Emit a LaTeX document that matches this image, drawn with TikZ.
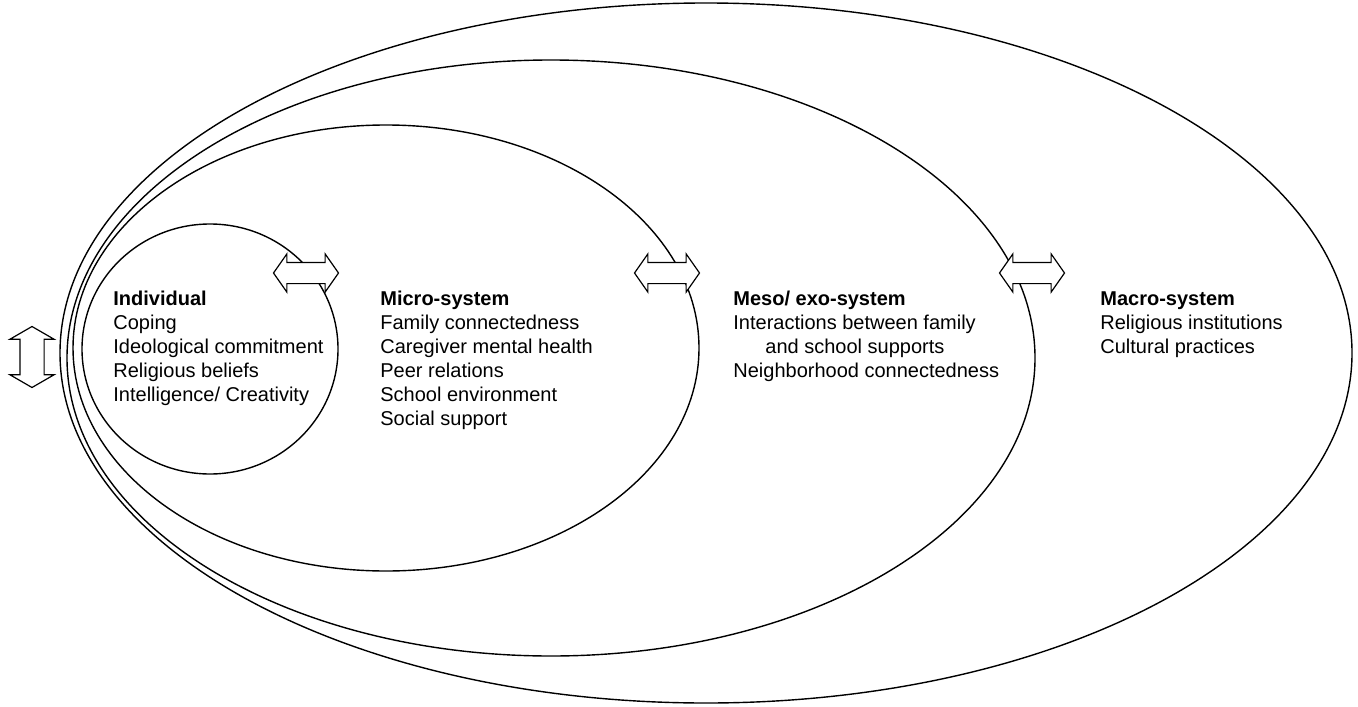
\documentclass[tikz,border=0pt]{standalone}
\usepackage{fontspec}
\setmainfont{Liberation Sans}
\usetikzlibrary{shapes.arrows}
\begin{document}
\begin{tikzpicture}[x=0.5pt,y=-0.5pt,
  ring/.style={draw=black,line width=0.7pt},
  blockarrow/.style={double arrow, draw=black, fill=white, line width=0.6pt,
    inner xsep=0pt, inner ysep=5pt, minimum height=32.5pt,
    double arrow head extend=4.25pt, double arrow tip angle=110},
  vblockarrow/.style={blockarrow, inner ysep=5.75pt, minimum height=30.5pt,
    double arrow head extend=5pt, double arrow tip angle=120, rotate=90},
  label/.style={anchor=north west, inner sep=0pt, align=left,
    font=\fontsize{10}{12}\selectfont}]
\useasboundingbox (0,0) rectangle (1358,706);
% nested systems
\draw[ring] (706,353) ellipse [x radius=646, y radius=350];
\draw[ring] (551,358) ellipse [x radius=484, y radius=298];
\draw[ring] (386,348) ellipse [x radius=313, y radius=223];
\draw[ring] (210,349) ellipse [x radius=128, y radius=125];
% two-way influences
\node[blockarrow] (a1) at (306,273) {};
\node[blockarrow] (a2) at (667,273) {};
\node[blockarrow] (a3) at (1032,273) {};
\node[vblockarrow] (a0) at (32,357) {};
% labels
\node[label] (ind) at (113,291) {\textbf{Individual}\\Coping\\Ideological commitment\\Religious beliefs\\Intelligence/ Creativity};
\node[label] (mic) at (380,291) {\textbf{Micro-system}\\Family connectedness\\Caregiver mental health\\Peer relations\\School environment\\Social support};
\node[label] (mes) at (733,291) {\textbf{Meso/ exo-system}\\Interactions between family\\\hspace*{16pt}and school supports\\Neighborhood connectedness};
\node[label] (mac) at (1100,291) {\textbf{Macro-system}\\Religious institutions\\Cultural practices};
\end{tikzpicture}
\end{document}
